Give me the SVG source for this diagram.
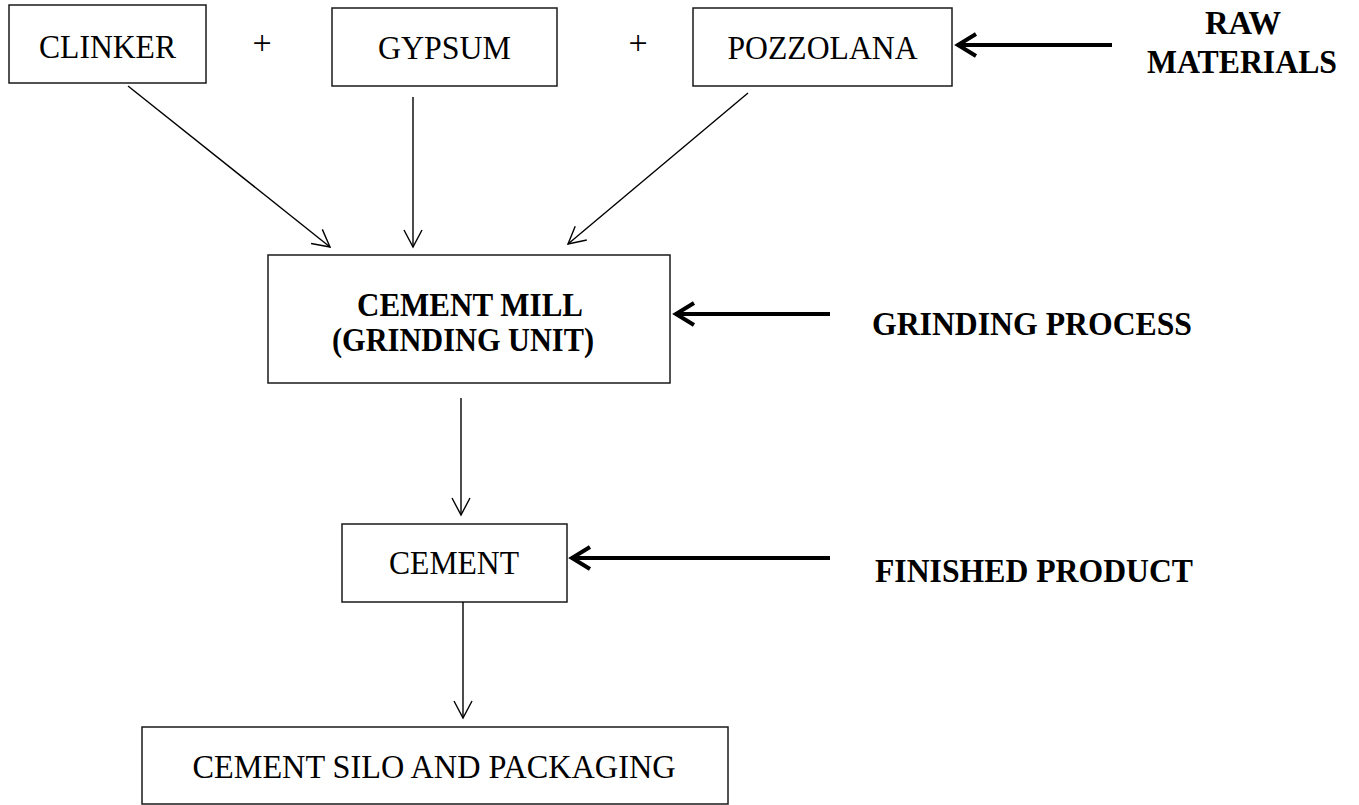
<svg xmlns="http://www.w3.org/2000/svg" width="1359" height="805" viewBox="0 0 1359 805">
  <style>
    .box { fill: #ffffff; stroke: #1a1a1a; stroke-width: 1.5; }
    .t { font-family: "Liberation Serif", "Times New Roman", serif; font-size: 33px; fill: #000; }
    .b { font-weight: bold; font-size: 34px; }
    .c { text-anchor: middle; }
    .plus { font-family: "Liberation Serif", "Times New Roman", serif; font-size: 34px; fill: #000; text-anchor: middle; }
    .thin { stroke: #000; stroke-width: 1.4; fill: none; marker-end: url(#openThin); }
    .thick { stroke: #000; stroke-width: 4; fill: none; marker-end: url(#openThick); }
  </style>
  <defs>
    <marker id="openThin" markerUnits="userSpaceOnUse" viewBox="-20 -12 24 24" refX="0" refY="0" markerWidth="24" markerHeight="24" orient="auto" overflow="visible">
      <path d="M-17,-9 L0,0 L-17,9" fill="none" stroke="#000" stroke-width="1.4"/>
    </marker>
    <marker id="openThick" markerUnits="userSpaceOnUse" viewBox="-24 -14 28 28" refX="0" refY="0" markerWidth="28" markerHeight="28" orient="auto" overflow="visible">
      <path d="M-19,-11 L-1,0 L-19,11" fill="none" stroke="#000" stroke-width="4"/>
    </marker>
  </defs>
  <rect width="1359" height="805" fill="#ffffff"/>

  <g id="clinker">
    <rect class="box" x="9" y="5" width="197" height="78"/>
    <text class="t c" x="107.5" y="58" textLength="137" lengthAdjust="spacingAndGlyphs">CLINKER</text>
  </g>
  <g id="plus1">
    <text class="plus" x="262" y="54">+</text>
  </g>
  <g id="gypsum">
    <rect class="box" x="332" y="8" width="225" height="78"/>
    <text class="t c" x="444.5" y="59" textLength="133" lengthAdjust="spacingAndGlyphs">GYPSUM</text>
  </g>
  <g id="plus2">
    <text class="plus" x="638" y="54">+</text>
  </g>
  <g id="pozzolana">
    <rect class="box" x="693" y="8" width="259" height="78"/>
    <text class="t c" x="822.5" y="59" textLength="190" lengthAdjust="spacingAndGlyphs">POZZOLANA</text>
  </g>
  <g id="raw-materials">
    <text class="t b c" x="1243" y="34" textLength="76" lengthAdjust="spacingAndGlyphs">RAW</text>
    <text class="t b c" x="1242" y="73" textLength="190" lengthAdjust="spacingAndGlyphs">MATERIALS</text>
  </g>
  <g id="cement-mill">
    <rect class="box" x="268" y="255" width="402" height="128"/>
    <text class="t b c" x="470" y="316" textLength="226" lengthAdjust="spacingAndGlyphs">CEMENT MILL</text>
    <text class="t b c" x="463" y="351" textLength="262" lengthAdjust="spacingAndGlyphs">(GRINDING UNIT)</text>
  </g>
  <g id="grinding-process">
    <text class="t b" x="872" y="335" textLength="320" lengthAdjust="spacingAndGlyphs">GRINDING PROCESS</text>
  </g>
  <g id="cement">
    <rect class="box" x="342" y="524" width="225" height="78"/>
    <text class="t c" x="454" y="574" textLength="130" lengthAdjust="spacingAndGlyphs">CEMENT</text>
  </g>
  <g id="finished-product">
    <text class="t b" x="875" y="582" textLength="318" lengthAdjust="spacingAndGlyphs">FINISHED PRODUCT</text>
  </g>
  <g id="silo">
    <rect class="box" x="142" y="727" width="586" height="77"/>
    <text class="t c" x="434" y="778" textLength="483" lengthAdjust="spacingAndGlyphs">CEMENT SILO AND PACKAGING</text>
  </g>

  <g id="connectors">
    <line class="thin" x1="128" y1="86" x2="330" y2="247"/>
    <line class="thin" x1="413" y1="97" x2="413" y2="247"/>
    <line class="thin" x1="748" y1="93" x2="568" y2="244"/>
    <line class="thin" x1="461" y1="398" x2="461" y2="515"/>
    <line class="thin" x1="463" y1="602" x2="463" y2="718"/>
    <line class="thick" x1="1112" y1="45" x2="957" y2="45"/>
    <line class="thick" x1="830" y1="314" x2="675" y2="314"/>
    <line class="thick" x1="830" y1="558" x2="571" y2="558"/>
  </g>
</svg>
